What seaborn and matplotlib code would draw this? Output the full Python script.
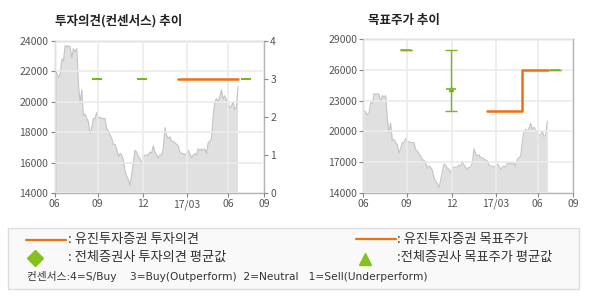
import matplotlib
matplotlib.use("Agg")
import matplotlib.pyplot as plt
import seaborn as sns
import numpy as np
import pandas as pd
from matplotlib.patches import Rectangle
from matplotlib.lines import Line2D

# ---------------- data ----------------
price = [22000, 21900, 21600, 21800, 22800, 22700, 23700, 23600, 23700, 23600,
         22900, 23500, 23300, 23500, 21200, 19900, 20800, 19100, 19200, 18900,
         18700, 17900, 18300, 18900, 18900, 19300, 18900, 19000, 18900, 18900,
         18900, 18200, 18100, 17800, 17600, 17200, 17200, 16900, 16400, 16600,
         16500, 16200, 15500, 15100, 14900, 14500, 15200, 16000, 16800, 16700,
         16400, 16300, 15900, 16400, 16500, 16500, 16500, 16700, 16600, 17100,
         16700, 16500, 16300, 16500, 16500, 16900, 18300, 17800, 17600, 17700,
         17400, 17400, 17300, 17200, 17100, 16700, 16600, 16600, 16500, 16600,
         16800, 16600, 16300, 16500, 16600, 16500, 16900, 16800, 16900, 16800,
         16900, 16600, 17300, 17400, 17600, 19000, 20000, 20200, 20000, 20300,
         20800, 20200, 20400, 20100, 19900, 19600, 19700, 20000, 19500, 19600,
         21000]
price_x = list(range(len(price)))

x_ticks = [-0.4, 25.6, 52.6, 79, 104.2, 125.6]
x_labels = ["06", "09", "12", "17/03", "06", "09"]

# 유진투자증권 투자의견 (opinion, 0-4 scale)
opinion_x = [74, 110.2]
opinion_y = [3, 3]
# 전체증권사 투자의견 평균값
avg_opinion_x = [25.4, 52.4, 114.8]
avg_opinion_y = [3, 3, 3]

# 유진투자증권 목표주가
target_x = [74, 94.8, 110.2]
target_y = [22000, 26000, 26000]
# 전체증권사 목표주가 (평균, 최고, 최저)
avg_target_x = [25.4, 52.4, 114.8]
avg_target_mean = [28000, 24100, 26000]
avg_target_high = [28000, 28000, 26000]
avg_target_low = [28000, 22000, 26000]

left_yticks = [14000, 16000, 18000, 20000, 22000, 24000]
right_yticks = [14000, 17000, 20000, 23000, 26000, 29000]
opinion_ticks = [0, 1, 2, 3, 4]

# ---------------- style ----------------
sns.set_style("white")
plt.rcParams['font.family'] = ['Noto Sans CJK KR', 'DejaVu Sans']

ORANGE = "#f07010"
GREEN = "#7ab51d"
DIAMOND = "#84c11e"
FILL = "#e0e0e0"
PLINE = "#c4c4c4"
GRID = "#ebebeb"
SPINE = "#b4b4b4"
TXT = "#555555"

W, H = 590, 300
fig = plt.figure(figsize=(W / 100, H / 100), dpi=100)
fig.patch.set_facecolor("white")

def px_axes(x0, y0, x1, y1):
    return fig.add_axes([x0 / W, 1 - y1 / H, (x1 - x0) / W, (y1 - y0) / H])

df_price = pd.DataFrame({"x": price_x, "price": price})

def style_axes(ax, yticks):
    ax.set_xlim(x_ticks[0], x_ticks[-1])
    ax.set_ylim(yticks[0], yticks[-1])
    ax.set_xticks(x_ticks)
    ax.set_xticklabels(x_labels)
    ax.set_yticks(yticks)
    ax.set_yticklabels([str(v) for v in yticks])
    ax.grid(True, color=GRID, lw=1.2)
    ax.set_axisbelow(False)
    for s in ax.spines.values():
        s.set_color(SPINE)
        s.set_linewidth(1)
    ax.tick_params(axis="both", which="both", length=3, width=0.8, color="#888888",
                   labelsize=7.5, labelcolor=TXT, pad=1.5,
                   bottom=True, left=True)
    ax.set_xlabel("")
    ax.set_ylabel("")

def draw_price(ax):
    ax.fill_between(df_price["x"], df_price["price"], 0, color=FILL, lw=0, zorder=1)
    sns.lineplot(data=df_price, x="x", y="price", ax=ax, color=PLINE, lw=0.8, zorder=1.5)

# ---------------- left chart ----------------
ax1 = px_axes(54.5, 41, 264, 193)
draw_price(ax1)
style_axes(ax1, left_yticks)

ax1b = ax1.twinx()
ax1b.set_ylim(0, 4)
ax1b.set_yticks(opinion_ticks)
ax1b.set_yticklabels([str(v) for v in opinion_ticks])
ax1b.tick_params(axis="y", length=3, width=0.8, color="#888888", labelsize=7.5,
                 labelcolor=TXT, pad=1.5, right=True)
for s in ax1b.spines.values():
    s.set_visible(False)
sns.lineplot(x=opinion_x, y=opinion_y, ax=ax1b, color=ORANGE, lw=1.8, zorder=4)
ax1b.plot(avg_opinion_x, avg_opinion_y, ls="none", marker="_", ms=6.5, mew=1.5,
          color=GREEN, zorder=4)
ax1b.set_ylabel("")

fig.text(55 / W, 1 - 20.5 / H, "투자의견(컨센서스) 추이", fontsize=9, fontweight="bold",
         color="#222222", va="center", ha="left")

# ---------------- right chart ----------------
ax2 = px_axes(363.3, 39.3, 573.3, 192.7)
draw_price(ax2)
style_axes(ax2, right_yticks)
sns.lineplot(x=target_x, y=target_y, ax=ax2, color=ORANGE, lw=1.8,
             drawstyle="steps-post", zorder=4)
yerr = [np.array(avg_target_mean) - np.array(avg_target_low),
        np.array(avg_target_high) - np.array(avg_target_mean)]
ax2.errorbar(avg_target_x, avg_target_mean, yerr=yerr, fmt="none", ecolor=GREEN,
             elinewidth=1, capsize=4.2, capthick=1, zorder=4)
ax2.plot(avg_target_x, avg_target_mean, ls="none", marker="_", ms=6.5, mew=1.2,
         color=GREEN, zorder=4)
ax2.plot([avg_target_x[1]], [avg_target_mean[1]], ls="none", marker="^", ms=3,
         color=GREEN, zorder=5)

fig.text(367.5 / W, 1 - 20.5 / H, "목표주가 추이", fontsize=9, fontweight="bold",
         color="#222222", va="center", ha="left")

# ---------------- legend box ----------------
lax = fig.add_axes([0, 0, 1, 1], zorder=-1)
lax.set_xlim(0, W)
lax.set_ylim(H, 0)
lax.axis("off")
lax.add_patch(Rectangle((8.3, 228.3), 571, 61, facecolor="#f9f9f9",
                        edgecolor="#dddddd", lw=1))
lax.add_line(Line2D([26, 65.7], [240, 240], color=ORANGE, lw=1.6))
lax.plot([34.7], [257.5], marker="D", ms=8.5, color=DIAMOND, ls="none")
lax.add_line(Line2D([356, 396], [239, 239], color=ORANGE, lw=1.6))
lax.plot([365], [259], marker="^", ms=8, color=DIAMOND, ls="none")

lfs = 9.5
lax.text(68.3, 240, ": 유진투자증권 투자의견", fontsize=lfs, color="#333333", va="center")
lax.text(68.3, 257.7, ": 전체증권사 투자의견 평균값", fontsize=lfs, color="#333333", va="center")
lax.text(397.3, 239, ": 유진투자증권 목표주가", fontsize=lfs, color="#333333", va="center")
lax.text(397.3, 257.7, ":전체증권사 목표주가 평균값", fontsize=lfs, color="#333333", va="center")
lax.text(26.7, 276.7, "컨센서스:4=S/Buy    3=Buy(Outperform)  2=Neutral   1=Sell(Underperform)",
         fontsize=7.7, color="#333333", va="center",
         family=['DejaVu Sans', 'Noto Sans CJK KR'])

fig.savefig("out.png", dpi=100)
